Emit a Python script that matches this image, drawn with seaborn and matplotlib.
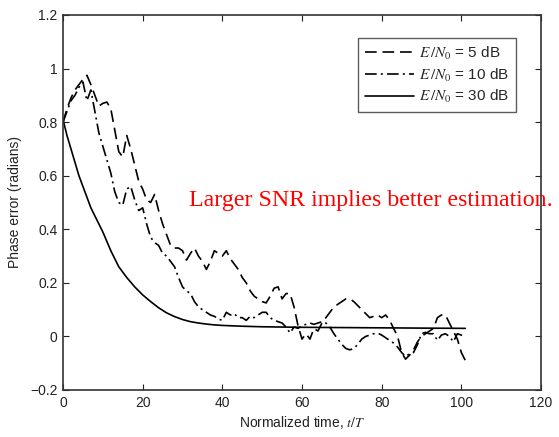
import numpy as np
import pandas as pd
import matplotlib
matplotlib.use("Agg")
import matplotlib.pyplot as plt
import seaborn as sns

# ---- data ----
t_5db = list(range(0, 102))
v_5db = [0.80, 0.85, 0.89, 0.92, 0.94, 0.96, 0.975, 0.94, 0.90, 0.86,
         0.87, 0.875, 0.85, 0.77, 0.69, 0.67, 0.75, 0.70, 0.64, 0.58,
         0.55, 0.51, 0.50, 0.53, 0.47, 0.42, 0.38, 0.34, 0.33, 0.33,
         0.32, 0.285, 0.31, 0.33, 0.30, 0.28, 0.25, 0.28, 0.32, 0.31,
         0.30, 0.32, 0.29, 0.27, 0.25, 0.22, 0.20, 0.17, 0.15, 0.14,
         0.13, 0.125, 0.15, 0.18, 0.185, 0.14, 0.16, 0.16, 0.11, 0.04,
         -0.01, 0.01, -0.01, 0.03, 0.02, 0.05, 0.07, 0.09, 0.11, 0.12,
         0.13, 0.14, 0.14, 0.13, 0.115, 0.10, 0.085, 0.07, 0.075, 0.08,
         0.07, 0.08, 0.06, 0.03, 0.0, -0.06, -0.085, -0.07, -0.05, -0.02,
         0.0, 0.01, 0.02, 0.03, 0.07, 0.08, 0.08, 0.05, 0.02, -0.01,
         -0.06, -0.09]

t_10db = list(range(0, 102))
v_10db = [0.80, 0.84, 0.88, 0.90, 0.93, 0.95, 0.88, 0.92, 0.84, 0.76,
          0.71, 0.66, 0.61, 0.54, 0.50, 0.49, 0.55, 0.56, 0.51, 0.47,
          0.48, 0.42, 0.37, 0.35, 0.34, 0.31, 0.30, 0.28, 0.26, 0.22,
          0.185, 0.17, 0.16, 0.13, 0.11, 0.10, 0.09, 0.08, 0.075, 0.065,
          0.06, 0.09, 0.08, 0.085, 0.07, 0.07, 0.06, 0.075, 0.07, 0.08,
          0.09, 0.09, 0.07, 0.06, 0.055, 0.05, 0.035, 0.013, 0.035, 0.03,
          0.04, 0.045, 0.05, 0.045, 0.05, 0.055, 0.05, 0.035, 0.01, -0.01,
          -0.03, -0.045, -0.05, -0.045, -0.03, -0.01, 0.0, 0.005, 0.01, 0.012,
          0.005, -0.005, -0.015, -0.025, -0.04, -0.06, -0.075, -0.065, -0.06, -0.03,
          0.01, 0.015, 0.01, 0.01, -0.015, 0.005, 0.01, 0.0, -0.02, 0.01,
          0.005, 0.0]

t_30db = [0, 1, 2, 3, 4, 5, 6, 7, 8, 9, 10, 12, 14, 16, 18, 20, 22, 24, 26,
          28, 30, 32, 34, 36, 38, 40, 45, 50, 55, 60, 70, 80, 90, 101]
v_30db = [0.81, 0.75, 0.70, 0.65, 0.60, 0.56, 0.52, 0.48, 0.45, 0.42, 0.39,
          0.32, 0.26, 0.22, 0.185, 0.155, 0.13, 0.107, 0.088, 0.074, 0.063,
          0.055, 0.05, 0.046, 0.043, 0.041, 0.038, 0.036, 0.035, 0.034,
          0.033, 0.032, 0.031, 0.03]

labels = ["$E\\,/N_0$ = 5 dB", "$E\\,/N_0$ = 10 dB", "$E\\,/N_0$ = 30 dB"]
x_ticks = [0, 20, 40, 60, 80, 100, 120]
y_ticks = [-0.2, 0, 0.2, 0.4, 0.6, 0.8, 1.0, 1.2]
y_ticklabels = ["\u22120.2", "0", "0.2", "0.4", "0.6", "0.8", "1", "1.2"]

# ---- style ----
sns.set_style("ticks")
plt.rcParams["font.family"] = ["Liberation Sans", "DejaVu Sans"]
plt.rcParams["mathtext.fontset"] = "stix"
plt.rcParams["xtick.direction"] = "in"
plt.rcParams["ytick.direction"] = "in"

fig = plt.figure(figsize=(5.59, 4.37), dpi=100)
ax = fig.add_axes([0.1127, 0.1076, 0.8551, 0.8581])

series = [
    (t_5db, v_5db, labels[0], (0, (7, 3.5))),
    (t_10db, v_10db, labels[1], (0, (7, 2.5, 1.2, 2.5))),
    (t_30db, v_30db, labels[2], "-"),
]
for t, v, lab, ls in series:
    df = pd.DataFrame({"t": t, "v": v})
    sns.lineplot(data=df, x="t", y="v", ax=ax, color="black", linewidth=1.2,
                 linestyle=ls, label=lab, legend=False)

ax.set_xlim(0, 120)
ax.set_ylim(-0.2, 1.2)
ax.set_xticks(x_ticks)
ax.set_xticklabels([str(x) for x in x_ticks])
ax.set_yticks(y_ticks)
ax.set_yticklabels(y_ticklabels)
ax.tick_params(axis="both", which="both", top=True, right=True, length=4,
               width=0.8, labelsize=10, colors="#222222", pad=4)
for s in ax.spines.values():
    s.set_visible(True)
    s.set_color("#333333")
    s.set_linewidth(1.2)

ax.set_xlabel("Normalized time, $t/T$", fontsize=10, color="#222222", labelpad=3)
ax.set_ylabel("Phase error (radians)", fontsize=10, color="#222222", labelpad=6)

leg = ax.legend(loc="upper right", bbox_to_anchor=(0.948, 0.939),
                borderaxespad=0, fontsize=11, frameon=True, fancybox=False,
                edgecolor="#333333", handlelength=3.2, handletextpad=0.35,
                labelspacing=0.3, borderpad=0.45)
leg.get_frame().set_linewidth(1.0)

fig.text(553 / 559, 1 - 201 / 437, "Larger SNR implies better estimation.",
         color="red", fontsize=17.2, family=["Liberation Serif"],
         ha="right", va="center")

fig.savefig("out.png", dpi=100)
